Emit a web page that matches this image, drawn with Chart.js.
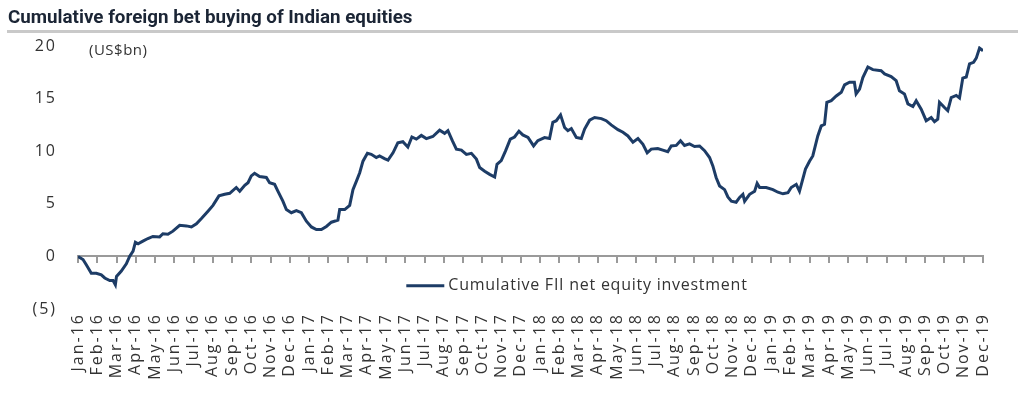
<!DOCTYPE html>
<html>
<head>
<meta charset="utf-8">
<script src="https://cdn.jsdelivr.net/npm/chart.js@4"></script>
<style>
  html, body { margin: 0; padding: 0; background: #fff; }
  #wrap { position: relative; width: 1024px; height: 395px; overflow: hidden; }
  #title { position: absolute; left: 8px; top: 6px; font: bold 18.8px Roboto, sans-serif; line-height: 22px; color: #1b2535; white-space: nowrap; }
  #rule { position: absolute; left: 7px; top: 30px; width: 1011px; height: 3px; background: #c9c9c9; }
  #chart { position: absolute; left: 0; top: 0; }
</style>
</head>
<body>
<div id="wrap">
  <canvas id="chart" width="1024" height="395"></canvas>
  <div id="title">Cumulative foreign bet buying of Indian equities</div>
  <div id="rule"></div>
</div>
<script>
// tick labels, one per month
const monthLabels = [
  'Jan-16','Feb-16','Mar-16','Apr-16','May-16','Jun-16','Jul-16','Aug-16','Sep-16','Oct-16','Nov-16','Dec-16',
  'Jan-17','Feb-17','Mar-17','Apr-17','May-17','Jun-17','Jul-17','Aug-17','Sep-17','Oct-17','Nov-17','Dec-17',
  'Jan-18','Feb-18','Mar-18','Apr-18','May-18','Jun-18','Jul-18','Aug-18','Sep-18','Oct-18','Nov-18','Dec-18',
  'Jan-19','Feb-19','Mar-19','Apr-19','May-19','Jun-19','Jul-19','Aug-19','Sep-19','Oct-19','Nov-19','Dec-19'
];

// position of each reading, in months since Jan-16
const monthPos = [
  0, 0.26, 0.43, 0.69, 0.95, 1.21, 1.39, 1.65, 1.82, 1.94, 2.0, 2.25, 2.51, 2.68, 2.86, 2.98, 3.12, 3.37, 3.63, 3.89,
  4.24, 4.41, 4.67, 4.93, 5.28, 5.63, 5.89, 6.15, 6.41, 6.75, 7.01, 7.32, 7.62, 7.88,
  8.22, 8.40, 8.66, 8.83, 9.0, 9.17, 9.43, 9.78, 9.95, 10.21, 10.38, 10.64, 10.82, 11.08, 11.34, 11.6, 11.86,
  12.12, 12.38, 12.64, 12.9, 13.16, 13.5, 13.59, 13.85, 14.11, 14.28, 14.46, 14.63, 14.8, 15.03, 15.23, 15.49, 15.66, 15.92,
  16.1, 16.36, 16.61, 16.87, 17.13, 17.34, 17.57, 17.83, 18.09, 18.43, 18.78, 19.04, 19.21, 19.44, 19.65, 19.91,
  20.17, 20.43, 20.69, 20.86, 21.12, 21.38, 21.64, 21.76, 21.98, 22.21, 22.45, 22.67, 22.9, 23.1, 23.37, 23.66, 23.88,
  24.23, 24.49, 24.66, 24.84, 25.06, 25.27, 25.44, 25.62, 25.88, 26.14, 26.31, 26.57, 26.83, 27.18, 27.43, 27.69,
  28.04, 28.3, 28.56, 28.82, 29.08, 29.34, 29.56, 29.77, 30.11, 30.37, 30.63, 30.81, 31.07, 31.29, 31.5, 31.76,
  32.02, 32.28, 32.54, 32.8, 32.97, 33.14, 33.32, 33.58, 33.75, 33.93, 34.18, 34.36, 34.53, 34.62, 34.88, 35.14, 35.27, 35.4, 35.74,
  36.09, 36.35, 36.61, 36.87, 37.04, 37.3, 37.47, 37.64, 37.78, 37.99, 38.16, 38.42, 38.6, 38.77, 38.89, 39.12, 39.38, 39.64, 39.81,
  40.07, 40.32, 40.41, 40.59, 40.76, 41.02, 41.28, 41.71, 41.89, 42.23, 42.49, 42.66, 42.92, 43.1, 43.36, 43.53, 43.79,
  44.05, 44.31, 44.48, 44.65, 44.74, 45.0, 45.17, 45.35, 45.61, 45.78, 45.95, 46.13, 46.3, 46.51, 46.65, 46.82, 47.0
];

// cumulative FII net equity investment, US$bn
const fiiCumulative = [
  0, -0.3, -0.8, -1.6, -1.6, -1.75, -2.05, -2.3, -2.3, -2.7, -1.9, -1.4, -0.7, 0.0, 0.5, 1.35, 1.2, 1.45, 1.7, 1.9,
  1.85, 2.15, 2.1, 2.4, 2.95, 2.9, 2.8, 3.1, 3.6, 4.3, 4.85, 5.75, 5.9, 6.0,
  6.55, 6.2, 6.75, 7.0, 7.65, 7.9, 7.6, 7.5, 7.0, 6.85, 6.2, 5.25, 4.45, 4.15, 4.35, 4.15, 3.35,
  2.8, 2.55, 2.55, 2.85, 3.25, 3.45, 4.45, 4.45, 4.85, 6.35, 7.15, 7.95, 9.05, 9.8, 9.7, 9.4, 9.55, 9.3,
  9.15, 9.85, 10.8, 10.9, 10.4, 11.35, 11.15, 11.5, 11.2, 11.4, 12.0, 11.7, 11.95, 11.0, 10.2, 10.1,
  9.7, 9.8, 9.25, 8.45, 8.1, 7.8, 7.55, 8.75, 9.1, 10.05, 11.15, 11.35, 11.9, 11.55, 11.3, 10.5, 11.0,
  11.3, 11.2, 12.75, 12.9, 13.45, 12.25, 11.95, 12.15, 11.3, 11.2, 12.1, 12.95, 13.2, 13.1, 12.9, 12.5,
  12.05, 11.8, 11.45, 10.85, 11.2, 10.65, 9.85, 10.2, 10.25, 10.1, 9.95, 10.5, 10.55, 11.0, 10.55, 10.7,
  10.45, 10.5, 10.05, 9.4, 8.6, 7.5, 6.7, 6.35, 5.65, 5.25, 5.15, 5.6, 5.9, 5.25, 5.9, 6.2, 6.95, 6.55, 6.55,
  6.35, 6.1, 5.95, 6.05, 6.55, 6.85, 6.2, 7.35, 8.3, 9.05, 9.55, 11.45, 12.4, 12.55, 14.65, 14.8, 15.25, 15.6, 16.3,
  16.55, 16.55, 15.45, 15.9, 17.0, 18.0, 17.75, 17.65, 17.35, 17.1, 16.7, 15.75, 15.45, 14.5, 14.25, 14.8, 14.0,
  12.9, 13.2, 12.8, 13.05, 14.65, 14.15, 13.85, 15.1, 15.3, 15.05, 16.95, 17.05, 18.3, 18.45, 18.85, 19.8, 19.55
];

const seriesName = 'Cumulative FII net equity investment';
const unitLabel = '(US$bn)';
const lineColor = '#1d3c66';
const textColor = '#333333';

// wider spacing for the axis text, as in the source chart
const spacing = {
  id: 'spacing',
  beforeDraw(chart) { chart.ctx.letterSpacing = '2px'; }
};

// unit note and legend drawn inside the plot
const extras = {
  id: 'extras',
  afterDraw(chart) {
    const ctx = chart.ctx;
    const x = chart.scales.x;
    const y = chart.scales.y;
    ctx.save();
    ctx.fillStyle = textColor;
    ctx.textBaseline = 'middle';
    ctx.letterSpacing = '0.5px';
    ctx.font = '15px "Open Sans", sans-serif';
    ctx.fillText(unitLabel, chart.chartArea.left + 11, y.getPixelForValue(20) + 5);

    const lx = x.getPixelForValue(17.05);
    const ly = y.getPixelForValue(-2.8);
    ctx.strokeStyle = lineColor;
    ctx.lineWidth = 3;
    ctx.beginPath();
    ctx.moveTo(lx, ly);
    ctx.lineTo(lx + 38, ly);
    ctx.stroke();
    ctx.letterSpacing = '0.75px';
    ctx.font = '16px "Open Sans", sans-serif';
    ctx.fillText(seriesName, lx + 42, ly);
    ctx.restore();
    ctx.letterSpacing = '0px';
  }
};

new Chart(document.getElementById('chart'), {
  type: 'line',
  data: {
    datasets: [{
      label: seriesName,
      data: monthPos.map((m, i) => ({ x: m, y: fiiCumulative[i] })),
      borderColor: lineColor,
      borderWidth: 3,
      pointRadius: 0,
      tension: 0,
      xAxisID: 'x',
      yAxisID: 'y'
    }]
  },
  options: {
    responsive: false,
    animation: false,
    layout: { padding: { top: 46, right: 41, bottom: 0, left: 0 } },
    plugins: { legend: { display: false }, tooltip: { enabled: false } },
    scales: {
      x: {
        type: 'linear',
        position: 'bottom',
        min: 0,
        max: 47,
        afterFit: s => { s.height = 86; },
        grid: { display: false, drawTicks: false },
        border: { display: false },
        ticks: {
          stepSize: 1,
          maxTicksLimit: 100,
          autoSkip: false,
          minRotation: 90,
          maxRotation: 90,
          padding: 4,
          color: textColor,
          font: { family: 'Open Sans', size: 16 },
          callback: v => monthLabels[v]
        }
      },
      x0: {
        type: 'linear',
        position: { y: 0 },
        min: 0,
        max: 47,
        grid: { display: true, drawOnChartArea: false, drawTicks: true, tickLength: 6, color: '#9a9a9a', lineWidth: 2 },
        border: { display: true, color: '#9a9a9a', width: 2 },
        ticks: { display: false, stepSize: 1, maxTicksLimit: 100 }
      },
      y: {
        min: -5,
        max: 20,
        afterFit: s => { s.width = 78; },
        grid: { display: false, drawTicks: false },
        border: { display: false },
        ticks: {
          stepSize: 5,
          padding: 21,
          color: textColor,
          font: { family: 'Open Sans', size: 16 },
          callback: v => v < 0 ? '(' + (-v) + ')' : String(v)
        }
      }
    }
  },
  plugins: [spacing, extras]
});
</script>
</body>
</html>
